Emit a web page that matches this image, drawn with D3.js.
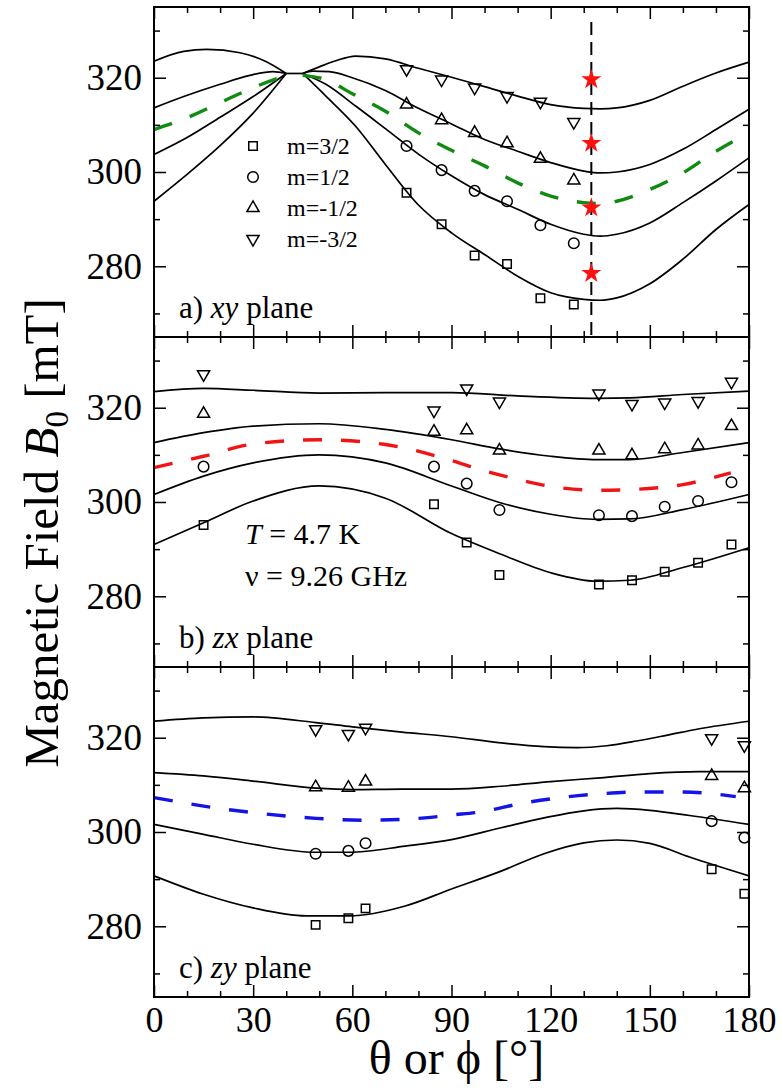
<!DOCTYPE html>
<html>
<head>
<meta charset="utf-8">
<script src="https://cdn.jsdelivr.net/npm/d3@7"></script>
<style>
body { margin: 0; background: #fff; }
svg { display: block; font-family: "Liberation Serif", "Times New Roman", serif; }
</style>
</head>
<body>
<div id="chart"></div>
<script>
///////////////////////////// DATA /////////////////////////////

xTickLabels = [0, 30, 60, 90, 120, 150, 180];
yTickLabels = [280, 300, 320];
legendLabels = ["m=3/2", "m=1/2", "m=-1/2", "m=-3/2"];

// a) xy plane -- fitted curves (two branches meeting near 40-45 deg)
xyCusp = [[40, 320.9], [45, 320.9]];
xyFitALeft = [[0, 323.5], [9, 325.6], [16, 326.0], [26, 325.3], [34, 323.4], [40, 320.9]];
xyFitARight = [[45, 320.9], [50, 322.3], [55, 323.6], [61, 324.6], [70, 324.0], [80, 322.0], [90, 320.1], [100, 318.1], [110, 316.1], [120, 314.3], [130, 313.5], [135, 313.4], [140, 313.6], [150, 315.2], [160, 318.2], [170, 321.0], [180, 323.3]];
xyFitBLeft = [[0, 313.6], [9, 316.0], [20, 318.6], [29, 320.5], [36, 321.3], [40, 320.9]];
xyFitBRight = [[45, 320.9], [48, 321.4], [53, 321.3], [60, 320.0], [70, 317.3], [80, 313.5], [90, 310.2], [100, 306.9], [110, 304.4], [120, 302.0], [130, 300.2], [135, 299.8], [140, 300.0], [150, 301.6], [160, 304.8], [170, 309.0], [180, 313.3]];
xyFitCLeft = [[0, 303.7], [10, 307.3], [20, 311.6], [30, 316.0], [40, 320.9]];
xyFitCRight = [[45, 320.9], [52, 318.6], [61, 314.0], [70, 309.2], [80, 303.8], [90, 299.2], [100, 295.2], [110, 292.1], [120, 288.9], [130, 286.8], [135, 286.4], [140, 286.8], [150, 289.2], [160, 293.5], [170, 298.1], [180, 303.0]];
xyFitDLeft = [[0, 293.8], [10, 299.5], [20, 305.6], [30, 312.5], [40, 320.9]];
xyFitDRight = [[45, 320.9], [52, 316.1], [61, 309.7], [70, 301.6], [80, 293.0], [90, 287.1], [100, 282.5], [110, 277.9], [120, 274.4], [130, 273.0], [135, 272.8], [140, 273.3], [150, 276.3], [160, 281.5], [170, 287.8], [180, 293.1]];
xyMeanLeft = [[0, 309.0], [10, 311.5], [20, 314.7], [30, 317.9], [40, 320.5]];
xyMeanRight = [[45, 320.5], [52, 319.6], [60, 316.6], [70, 312.9], [80, 308.3], [90, 304.6], [100, 301.3], [110, 297.7], [120, 294.9], [130, 293.5], [135, 293.3], [140, 293.8], [150, 296.3], [160, 299.8], [170, 304.4], [180, 308.3]];

// a) measured points
xyAngles = [76.4, 87.0, 97.0, 106.8, 116.9, 127.0];
xyM32  = [295.6, 288.9, 282.3, 280.5, 273.2, 271.9];
xyM12  = [305.5, 300.4, 296.0, 293.8, 288.7, 284.9];
xyMm12 = [314.3, 311.0, 308.3, 306.1, 302.8, 298.2];
xyMm32 = [321.8, 319.6, 317.9, 316.1, 314.9, 310.6];
starAngle = 132.3;
starValues = [319.6, 306.1, 292.4, 278.5];

// b) zx plane
zxFitA = [[0, 323.4], [15, 324.1], [30, 323.7], [50, 323.1], [70, 323.2], [90, 323.2], [110, 322.5], [134, 322.0], [144, 322.1], [160, 322.8], [180, 323.5]];
zxFitB = [[0, 312.6], [15, 314.7], [30, 316.1], [50, 316.6], [70, 315.4], [90, 313.2], [105, 311.2], [120, 309.7], [134, 309.0], [144, 309.0], [160, 310.5], [180, 312.6]];
zxFitC = [[0, 301.6], [15, 305.5], [30, 308.3], [50, 310.0], [70, 308.3], [90, 303.4], [105, 299.8], [120, 297.4], [134, 296.3], [144, 296.4], [160, 298.4], [180, 301.6]];
zxFitD = [[0, 291.0], [15, 295.6], [30, 300.2], [50, 303.4], [70, 300.8], [90, 293.3], [105, 288.9], [120, 285.0], [134, 283.2], [144, 283.4], [160, 286.1], [180, 290.3]];
zxMean = [[0, 307.3], [15, 309.7], [30, 312.3], [50, 313.2], [70, 312.2], [90, 308.8], [100, 306.6], [110, 304.8], [123, 303.0], [135, 302.5], [146, 302.7], [160, 303.7], [174.5, 306.2]];

zxAngles = [15, 84.7, 94.6, 104.5, 134.6, 144.6, 154.5, 164.6, 174.7];
zxM32  = [295.1, 299.5, 291.4, 284.5, 282.5, 283.4, 285.2, 287.1, 291.0];
zxM12  = [307.5, 307.5, 303.9, 298.3, 297.2, 297.0, 299.0, 300.2, 304.2];
zxMm12 = [318.7, 314.9, 315.2, 310.9, 310.9, 309.9, 311.2, 312.0, 316.1];
zxMm32 = [327.1, 319.4, 324.1, 321.3, 323.0, 320.8, 321.1, 321.4, 325.5];

// c) zy plane
zyFitA = [[0, 323.5], [15, 324.2], [30, 324.4], [49, 323.2], [60, 322.3], [75, 321.2], [90, 320.2], [105, 318.9], [118, 318.1], [128, 317.9], [137, 318.3], [146, 319.3], [155, 320.5], [165, 321.9], [180, 323.5]];
zyFitB = [[0, 312.6], [15, 311.9], [30, 310.8], [49, 309.3], [60, 309.0], [75, 309.1], [90, 309.1], [105, 309.7], [120, 310.7], [135, 311.5], [150, 312.4], [165, 312.8], [180, 312.8]];
zyFitC = [[0, 301.6], [15, 299.5], [30, 297.4], [49, 295.7], [59, 295.7], [76, 297.0], [90, 298.4], [105, 300.9], [118, 303.0], [130, 304.5], [140, 305.0], [150, 304.6], [162, 303.5], [180, 301.6]];
zyFitD = [[0, 290.7], [15, 286.8], [30, 283.9], [46, 282.2], [59, 282.2], [76, 284.3], [90, 287.9], [105, 291.7], [118, 295.4], [130, 297.7], [140, 298.3], [150, 297.6], [162, 294.7], [180, 290.7]];
zyMean = [[0, 307.3], [15, 305.5], [30, 304.1], [49, 302.9], [64, 302.5], [82, 303.0], [90, 303.6], [100, 304.4], [110, 305.9], [123, 307.3], [135, 308.1], [147, 308.5], [160, 308.5], [176, 307.5]];

zyAngles = [48.9, 58.8, 64.0, 168.7, 178.6];
zyM32  = [280.3, 281.7, 283.8, 292.1, 286.9];
zyM12  = [295.4, 296.0, 297.6, 302.3, 298.8];
zyMm12 = [309.5, 309.4, 310.7, 311.9, 309.3];
zyMm32 = [321.8, 320.8, 322.1, 319.9, 318.4];

///////////////////////////// CHART OPTIONS /////////////////////////////

width = 782;
height = 1088;
plotLeft = 154;
plotRight = 749;
panelH = 330;
fontStack = '"Liberation Serif", "Times New Roman", serif';

symbols = [
    { type: d3.symbolSquare, size: 72, rot: 0 },
    { type: d3.symbolCircle, size: 88, rot: 0 },
    { type: d3.symbolTriangle, size: 64, rot: 0 },
    { type: d3.symbolTriangle, size: 64, rot: 180 }
];

panels = [
    {
        top: 7, tag: "a)", plane: "xy",
        fits: [xyFitALeft, xyFitARight, xyFitBLeft, xyFitBRight, xyFitCLeft, xyFitCRight, xyFitDLeft, xyFitDRight, xyCusp],
        means: [xyMeanLeft, xyMeanRight], meanColor: "#118a11",
        angles: xyAngles, series: [xyM32, xyM12, xyMm12, xyMm32]
    },
    {
        top: 337, tag: "b)", plane: "zx",
        fits: [zxFitA, zxFitB, zxFitC, zxFitD],
        means: [zxMean], meanColor: "#f01414",
        angles: zxAngles, series: [zxM32, zxM12, zxMm12, zxMm32]
    },
    {
        top: 667, tag: "c)", plane: "zy",
        fits: [zyFitA, zyFitB, zyFitC, zyFitD],
        means: [zyMean], meanColor: "#1414e6",
        angles: zyAngles, series: [zyM32, zyM12, zyMm12, zyMm32]
    }
];

svg = d3.select("#chart").append("svg")
    .attr("width", width)
    .attr("height", height);

xScale = d3.scaleLinear().domain([0, 180]).range([plotLeft, plotRight]);

function styleAxis(g, fontSize) {
    g.attr("font-family", null).attr("font-size", null);
    g.select(".domain").remove();
    g.selectAll(".tick line").attr("stroke", "#000").attr("stroke-width", 1.5);
    g.selectAll("text")
        .attr("font-family", fontStack)
        .attr("font-size", fontSize)
        .attr("fill", "#000");
}

panels.forEach(function(p, idx) {
    var yScale = d3.scaleLinear().domain([265, 335]).range([p.top + panelH, p.top]);
    var lineGen = d3.line()
        .x(d => xScale(d[0]))
        .y(d => yScale(d[1]))
        .curve(d3.curveMonotoneX);

    var g = svg.append("g").attr("class", "panel");

    // fitted curves
    g.selectAll(".fit")
        .data(p.fits).enter()
        .append("path")
        .attr("class", "fit")
        .attr("d", d => lineGen(d))
        .attr("fill", "none")
        .attr("stroke", "#000")
        .attr("stroke-width", 1.7);

    // average line
    g.selectAll(".mean")
        .data(p.means).enter()
        .append("path")
        .attr("class", "mean")
        .attr("d", d => lineGen(d))
        .attr("fill", "none")
        .attr("stroke", p.meanColor)
        .attr("stroke-width", 3.4)
        .attr("stroke-dasharray", "19,19");

    // measured points
    p.series.forEach(function(vals, s) {
        var sym = symbols[s];
        g.selectAll(".pt" + s)
            .data(vals).enter()
            .append("path")
            .attr("class", "pt" + s)
            .attr("d", d3.symbol().type(sym.type).size(sym.size)())
            .attr("transform", (d, i) => `translate(${xScale(p.angles[i])},${yScale(d)}) rotate(${sym.rot})`)
            .attr("fill", "none")
            .attr("stroke", "#000")
            .attr("stroke-width", 1.5);
    });

    if (idx == 0) {
        // vertical marker line and stars
        g.append("line")
            .attr("x1", xScale(starAngle)).attr("x2", xScale(starAngle))
            .attr("y1", p.top + 15).attr("y2", p.top + panelH)
            .attr("stroke", "#000")
            .attr("stroke-width", 2)
            .attr("stroke-dasharray", "13,7");
        g.selectAll(".star")
            .data(starValues).enter()
            .append("path")
            .attr("class", "star")
            .attr("d", d3.symbol().type(d3.symbolStar).size(125)())
            .attr("transform", d => `translate(${xScale(starAngle)},${yScale(d)})`)
            .attr("fill", "#ff1010");

        // legend
        var leg = g.selectAll(".legend")
            .data(legendLabels).enter()
            .append("g")
            .attr("class", "legend")
            .attr("transform", (d, i) => `translate(253, ${146 + i * 31})`);
        leg.append("path")
            .attr("d", (d, i) => d3.symbol().type(symbols[i].type).size(symbols[i].size)())
            .attr("transform", (d, i) => `rotate(${symbols[i].rot})`)
            .attr("fill", "none")
            .attr("stroke", "#000")
            .attr("stroke-width", 1.5);
        leg.append("text")
            .attr("x", 34)
            .attr("dy", "0.33em")
            .attr("font-size", 24)
            .text(d => d);
    }

    if (idx == 1) {
        var t1 = g.append("text")
            .attr("x", 245).attr("y", p.top + 207)
            .attr("font-size", 30);
        t1.append("tspan").attr("font-style", "italic").text("T");
        t1.append("tspan").text(" = 4.7 K");
        g.append("text")
            .attr("x", 245).attr("y", p.top + 249)
            .attr("font-size", 30)
            .text("\u03bd = 9.26 GHz");
    }

    // panel tag
    var tag = g.append("text")
        .attr("x", 179).attr("y", p.top + 311)
        .attr("font-size", 31);
    tag.append("tspan").text(p.tag + " ");
    tag.append("tspan").attr("font-style", "italic").text(p.plane);
    tag.append("tspan").text(" plane");

    // axes with inward ticks on all sides
    var minorX = d3.range(0, 181, 10).filter(v => xTickLabels.indexOf(v) < 0);
    var minorY = [270, 290, 310, 330];
    var last = idx == panels.length - 1;

    [["bottom", p.top + panelH], ["top", p.top]].forEach(function(a) {
        var maker = a[0] == "bottom" ? d3.axisBottom : d3.axisTop;
        var gMinor = g.append("g").attr("transform", `translate(0,${a[1]})`)
            .call(maker(xScale).tickValues(minorX).tickSize(-6).tickFormat(""));
        styleAxis(gMinor, 36);
        var major = maker(xScale).tickValues(xTickLabels).tickSize(-12).tickSizeOuter(0);
        if (a[0] == "bottom" && last) {
            major.tickPadding(9).tickFormat(d3.format("d"));
        } else {
            major.tickFormat("");
        }
        var gMajor = g.append("g").attr("transform", `translate(0,${a[1]})`).call(major);
        styleAxis(gMajor, 36);
    });

    [["left", plotLeft], ["right", plotRight]].forEach(function(a) {
        var maker = a[0] == "left" ? d3.axisLeft : d3.axisRight;
        var gMinor = g.append("g").attr("transform", `translate(${a[1]},0)`)
            .call(maker(yScale).tickValues(minorY).tickSize(-6).tickFormat(""));
        styleAxis(gMinor, 37);
        var major = maker(yScale).tickValues(yTickLabels).tickSize(-12).tickSizeOuter(0);
        if (a[0] == "left") {
            major.tickPadding(12).tickFormat(d3.format("d"));
        } else {
            major.tickFormat("");
        }
        var gMajor = g.append("g").attr("transform", `translate(${a[1]},0)`).call(major);
        styleAxis(gMajor, 37);
    });

    // frame
    g.append("rect")
        .attr("x", plotLeft).attr("y", p.top)
        .attr("width", plotRight - plotLeft).attr("height", panelH)
        .attr("fill", "none")
        .attr("stroke", "#000")
        .attr("stroke-width", 2);
});

// axis titles
svg.append("text")
    .attr("x", (plotLeft + plotRight) / 2 + 5)
    .attr("y", 1074)
    .attr("text-anchor", "middle")
    .attr("font-size", 48)
    .text("\u03b8 or \u03d5 [\u00b0]");

yTitle = svg.append("text")
    .attr("transform", "translate(58, 533) rotate(-90)")
    .attr("text-anchor", "middle")
    .attr("font-size", 49);
yTitle.append("tspan").text("Magnetic Field ");
yTitle.append("tspan").attr("font-style", "italic").text("B");
yTitle.append("tspan").attr("font-size", 33).attr("dy", 10).text("0");
yTitle.append("tspan").attr("dy", -10).text(" [mT]");
</script>
</body>
</html>
